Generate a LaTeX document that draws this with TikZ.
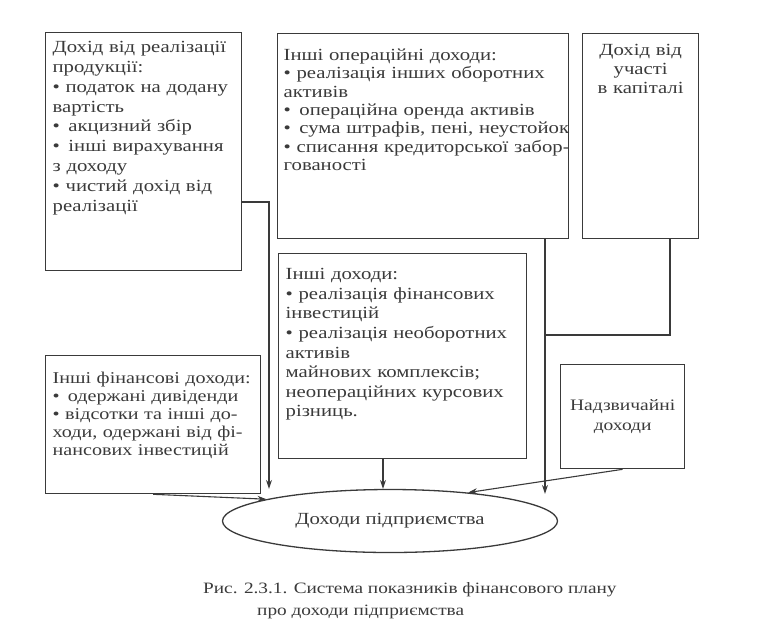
\documentclass[tikz,border=0pt]{standalone}
\usepackage{fontspec}
\setmainfont[FakeStretch=1.22]{Liberation Serif}
\usetikzlibrary{arrows.meta,shapes.geometric,positioning,calc}
\definecolor{inkgray}{RGB}{58,58,58}
\newcommand{\spreadline}[1]{\makebox[\linewidth][s]{#1}}

\begin{document}
\begin{tikzpicture}[x=1pt,y=-1pt,
  income/.style={draw=inkgray,line width=1.3pt,rectangle,anchor=north west,
                 inner xsep=7pt,inner ysep=6pt,align=left,text=inkgray},
  plain/.style={draw=inkgray,line width=1.3pt,rectangle,anchor=north west,
                align=center,text=inkgray,font=\fontsize{16}{20}\selectfont},
  total/.style={draw=inkgray,line width=1.3pt,ellipse,minimum width=335pt,minimum height=63pt,
                text=inkgray,font=\fontsize{17}{20}\selectfont},
  arr/.style={-{Stealth[length=9pt,width=6pt]},line width=1.1pt,draw=inkgray},
  link/.style={line width=1.1pt,draw=inkgray}
]
  \useasboundingbox (0,0) rectangle (766,625);
  % Income sources
  \node[income,text width=182pt,text height=14pt,text depth=212pt,
        font=\fontsize{17}{19.8}\selectfont] (prod) at (45,32)
    {\spreadline{Дохід від реалізації}\\
     продукції:\\
     \spreadline{• податок на додану}\\
     вартість\\
     •\enspace акцизний збір\\
     •\enspace інші вирахування\\
     з доходу\\
     \spreadline{• чистий дохід від}\\
     реалізації};
  \node[income,text width=279pt,inner xsep=6pt,text height=21pt,text depth=172pt,
        font=\fontsize{17}{18.3}\selectfont] (oper) at (277,33)
    {Інші операційні доходи:\\
     \spreadline{• реалізація інших оборотних}\\
     активів\\
     •\enspace операційна оренда активів\\
     \mbox{•\enspace сума штрафів, пені, неустойок}\\
     \spreadline{• списання кредиторської забор-}\\
     гованості};
  \node[income,align=center,text width=102pt,text height=16pt,text depth=177pt,
        font=\fontsize{17}{19}\selectfont] (kap) at (582,33)
    {Дохід від\\участі\\в капіталі};
  \node[income,text width=234pt,text height=20pt,text depth=173pt,
        font=\fontsize{17}{19.6}\selectfont] (inshi) at (278,253)
    {Інші доходи:\\
     \spreadline{• реалізація фінансових}\\
     інвестицій\\
     \spreadline{• реалізація необоротних}\\
     активів\\
     майнових комплексів;\\
     \spreadline{неопераційних курсових}\\
     різниць.};
  \node[income,text width=201pt,text height=22pt,text depth=104pt,
        font=\fontsize{16.5}{18}\selectfont] (fin) at (45,355)
    {\mbox{Інші фінансові доходи:}\\
     •\enspace одержані дивіденди\\
     \spreadline{• відсотки та інші до-}\\
     \spreadline{ходи, одержані від фі-}\\
     нансових інвестицій};
  \node[plain,minimum width=124pt,minimum height=104pt] (nadz) at (560,364)
    {Надзвичайні\\доходи};
  % Total
  \node[total] (ell) at (390,521) {Доходи підприємства};
  % Caption
  \node[anchor=base west,align=left,inner sep=0pt,text=inkgray,
        font=\fontsize{15.8}{21.5}\selectfont] (cap) at (203,615)
    {Рис. 2.3.1. Система показників фінансового плану\\
     \hspace*{54pt}про доходи підприємства};
  % Flows
  \coordinate (j1) at (269,202);
  \coordinate (j2) at (545,335);
  \coordinate (j3) at (670,335);
  \coordinate (j4) at (383,470);
  \draw[arr] (prod.east |- j1) -| (j1 |- ell.north);
  \draw[arr] (oper.south -| j2) -- ([yshift=-5pt]j2 |- ell.north);
  \draw[link] (kap.south -| j3) |- (j2);
  \draw[arr] (inshi.south -| j4) -- (j4 |- ell.north);
  \draw[arr] (fin.south) -- (ell.170);
  \draw[arr] (nadz.south) -- (ell.20);
\end{tikzpicture}
\end{document}
